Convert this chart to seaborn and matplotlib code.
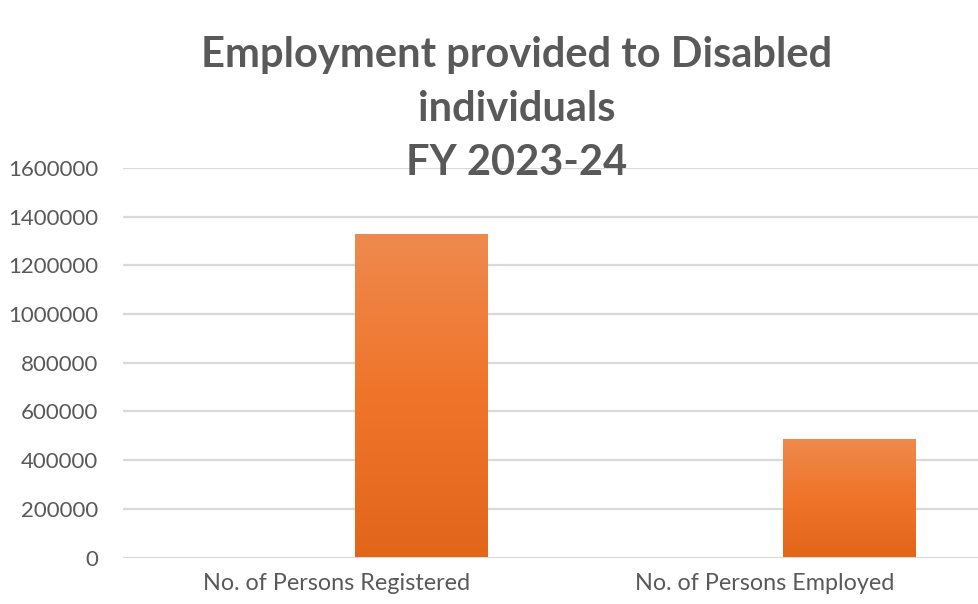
import numpy as np
import pandas as pd
import matplotlib
matplotlib.use("Agg")
import matplotlib.pyplot as plt
from matplotlib.colors import LinearSegmentedColormap
import seaborn as sns

# Data
categories = ["No. of Persons Registered", "No. of Persons Employed"]
persons = [1330000, 485000]
y_ticks = [0, 200000, 400000, 600000, 800000, 1000000, 1200000, 1400000, 1600000]
title_lines = ["Employment provided to Disabled", "individuals", "FY 2023-24"]

df = pd.DataFrame({"category": categories, "persons": persons})

sns.set_theme(style="white")
plt.rcParams["font.family"] = ["Lato", "DejaVu Sans"]

TEXT = "#595959"
GRID = "#D9D9D9"

fig = plt.figure(figsize=(9.79, 6.04), dpi=100)
ax = fig.add_axes([123 / 979, 1 - 557.5 / 604, 1 - 123 / 979, (557.5 - 168) / 604])

sns.barplot(data=df, x="category", y="persons", color="#ED7D31",
            width=0.31, saturation=1, ax=ax, zorder=3)

# Bars sit to the right of each category slot
bar_offset = 0.196
grad = LinearSegmentedColormap.from_list("bar", ["#E2661A", "#F0742A", "#EE8A4E"])
for p in ax.patches:
    p.set_x(p.get_x() + bar_offset)
    p.set_facecolor("none")
    p.set_edgecolor("none")
    x0, y0 = p.get_x(), p.get_y()
    w, h = p.get_width(), p.get_height()
    img = ax.imshow(np.linspace(0, 1, 256).reshape(-1, 1), cmap=grad,
                    aspect="auto", origin="lower",
                    extent=[x0, x0 + w, y0, y0 + h], zorder=3)
    img.set_clip_path(p)

ax.set_xlim(-0.5, 1.5)
ax.set_ylim(0, 1600000)
ax.set_yticks(y_ticks)
ax.set_yticklabels([str(v) for v in y_ticks])
ax.set_xlabel("")
ax.set_ylabel("")

ax.yaxis.grid(True, color=GRID, linewidth=1.6, zorder=0)
ax.set_axisbelow(True)
for s in ax.spines.values():
    s.set_visible(False)
ax.tick_params(axis="both", length=0, colors=TEXT)
ax.tick_params(axis="y", pad=18, labelsize=16)
ax.tick_params(axis="x", pad=11, labelsize=16.8)

for i, line in enumerate(title_lines):
    fig.text(517 / 979, 1 - (55 + i * 54) / 604, line, ha="center", va="center",
             fontsize=30, fontweight="bold", color=TEXT, zorder=5)

fig.savefig("out.png", dpi=100, facecolor="white")
